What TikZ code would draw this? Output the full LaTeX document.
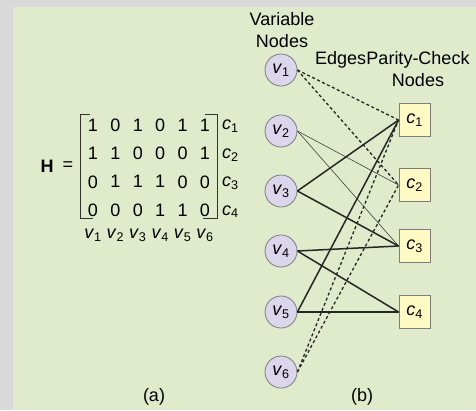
\documentclass[tikz,border=0pt]{standalone}
\usepackage{fontspec}
\setmainfont{Liberation Sans}
\usetikzlibrary{positioning}

\definecolor{panelgreen}{HTML}{DFEBCA}
\definecolor{framegray}{HTML}{D9D9D9}
\definecolor{varfill}{HTML}{DCD6EC}
\definecolor{chkfill}{HTML}{FFFAC4}
\definecolor{rimgray}{HTML}{7C7C7C}
\newcommand{\ivar}[2]{\textit{#1}\textsubscript{#2}}

\tikzset{
  varnode/.style={circle,draw=rimgray,fill=varfill,line width=0.8pt,minimum size=32pt,inner sep=0pt},
  chknode/.style={rectangle,draw=rimgray,fill=chkfill,line width=0.9pt,minimum width=31pt,minimum height=33pt,inner sep=0pt},
  entry/.style={inner sep=0pt},
  thinedge/.style={line width=0.6pt,black!75},
  thickedge/.style={line width=1.5pt,black!85},
  dashedge/.style={line width=1.3pt,black!85,dash pattern=on 3pt off 2.5pt}
}

\begin{document}
\begin{tikzpicture}[x=1pt,y=-1pt,font=\fontsize{18}{22}\selectfont]

    % Panel
    \fill[framegray] (0,0) rectangle (476,410);
    \fill[panelgreen] (13,7) rectangle (476,410);

    % (a) Parity-check matrix
    \node (H) at (47,166) {\textbf{H}};
    \node (eq) at (68,166) {=};
    \draw[line width=0.8pt,black!80] (90,114) -- (80,114) -- (80,218) -- (93,218);
    \draw[line width=0.8pt,black!80] (205,114) -- (217,114) -- (217,218) -- (203,218);
    \foreach \row [count=\i] in {{1,0,1,0,1,1},{1,1,0,0,0,1},{0,1,1,1,0,0},{0,0,0,1,1,0}} {
      \foreach \e [count=\j] in \row {
        \node[entry] (m\i\j) at ({70.6+22.4*\j},{96.6+28.4*\i}) {\e};
      }
      \node[entry,anchor=west] (r\i) at (222,{98+28.4*\i}) {\ivar{c}{\i}};
    }
    \foreach \j in {1,...,6} {
      \node[entry] (k\j) at ({70.6+22.4*\j},235) {\ivar{v}{\j}};
    }
    \node (capa) at (154,397) {(a)};

    % (b) Tanner graph
    \node[align=center] (vlabel) at (282,30) {Variable\\Nodes};
    \node[align=center,inner sep=0pt] (clabel) at (418,69) {Parity-Check\\Nodes};
    \node[anchor=north east,inner sep=0pt] (elabel) at (clabel.north west) {Edges};

    \node[varnode] (v1) at (281,70) {\ivar{v}{1}};
    \node[varnode] (v2) at (281,131) {\ivar{v}{2}};
    \node[varnode] (v3) at (281,191) {\ivar{v}{3}};
    \node[varnode] (v4) at (281,251) {\ivar{v}{4}};
    \node[varnode] (v5) at (281,312) {\ivar{v}{5}};
    \node[varnode] (v6) at (281,372) {\ivar{v}{6}};

    \node[chknode] (c1) at (414.5,120) {\ivar{c}{1}};
    \node[chknode] (c2) at (414.5,185) {\ivar{c}{2}};
    \node[chknode] (c3) at (414.5,246) {\ivar{c}{3}};
    \node[chknode] (c4) at (414.5,312) {\ivar{c}{4}};

    % Edges
    \draw[dashedge] (v1.east) -- (c1.west);
    \draw[dashedge] (v1.east) -- (c2.west);
    \draw[thinedge] (v2.east) -- (c2.west);
    \draw[thinedge] (v2.east) -- (c3.west);
    \draw[thickedge] (v3.east) -- (c1.west);
    \draw[thickedge] (v3.east) -- (c3.west);
    \draw[thickedge] (v4.east) -- (c3.west);
    \draw[thickedge] (v4.east) -- (c4.west);
    \draw[thickedge] (v5.east) -- (c1.west);
    \draw[thickedge] (v5.east) -- (c4.west);
    \draw[dashedge] (v6.east) -- (c1.west);
    \draw[dashedge] (v6.east) -- (c2.west);

    \node (capb) at (362,397) {(b)};

\end{tikzpicture}
\end{document}
